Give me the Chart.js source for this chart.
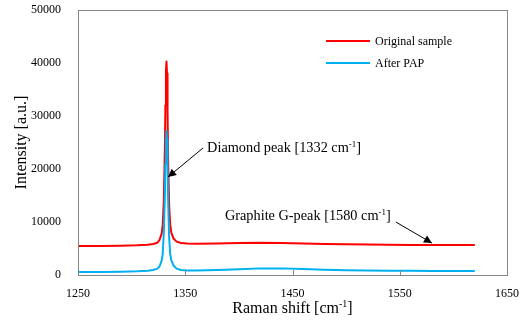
<!DOCTYPE html>
<html>
<head>
<meta charset="utf-8">
<script src="https://cdn.jsdelivr.net/npm/chart.js@4/dist/chart.umd.min.js"></script>
<style>
  html, body { margin: 0; padding: 0; background: #fff; }
  #wrap { width: 523px; height: 320px; }
</style>
</head>
<body>
<div id="wrap"><canvas id="ramanChart" width="523" height="320"></canvas></div>
<script>
// Raman shift samples (cm-1), denser around the diamond peak
const ramanShift = [1250, 1270, 1290, 1305, 1315, 1320, 1324, 1326, 1328, 1329, 1330, 1331, 1331.5, 1332, 1332.5, 1333, 1333.5, 1334, 1335, 1336, 1337, 1339, 1342, 1346, 1352, 1360, 1380, 1400, 1420, 1440, 1460, 1480, 1500, 1520, 1540, 1560, 1580, 1600, 1620];

// Intensity, original sample (red)
const originalSample = [5450, 5480, 5520, 5600, 5700, 5850, 6100, 6600, 7800, 9500, 14000, 24000, 32000, 38500, 40300, 38000, 31000, 22000, 13000, 9500, 8000, 6900, 6300, 6050, 5950, 5900, 5950, 6050, 6100, 6050, 5950, 5850, 5800, 5750, 5700, 5680, 5650, 5650, 5650];

// Intensity, after PAP (blue)
const afterPap = [550, 580, 620, 700, 800, 950, 1200, 1600, 2700, 4000, 8000, 15000, 21000, 25500, 27200, 25500, 21000, 14500, 7000, 4000, 2800, 1800, 1200, 950, 850, 850, 950, 1100, 1250, 1250, 1150, 1000, 900, 850, 800, 780, 750, 740, 740];

const seriesNames = ['Original sample', 'After PAP'];
const xTicks = [1250, 1350, 1450, 1550, 1650];
const yTicks = [0, 10000, 20000, 30000, 40000, 50000];

const RED = '#ff0000';
const BLUE = '#00b0f0';
const SERIF = '"Liberation Serif", "Times New Roman", serif';

function toPoints(ys) {
    return ramanShift.map((x, i) => ({ x: x, y: ys[i] }));
}

// text with a superscript "-1" in the middle, e.g. "[1332 cm-1]"
function drawSupText(ctx, x, y, before, sup, after, size) {
    ctx.font = size + 'px ' + SERIF;
    ctx.fillText(before, x, y);
    let w = ctx.measureText(before).width;
    ctx.font = Math.round(size * 0.62) + 'px ' + SERIF;
    ctx.fillText(sup, x + w, y - size * 0.38);
    w += ctx.measureText(sup).width;
    ctx.font = size + 'px ' + SERIF;
    ctx.fillText(after, x + w, y);
}

function drawArrow(ctx, x0, y0, x1, y1) {
    ctx.save();
    ctx.strokeStyle = '#000';
    ctx.fillStyle = '#000';
    ctx.lineWidth = 1;
    ctx.beginPath();
    ctx.moveTo(x0, y0);
    ctx.lineTo(x1, y1);
    ctx.stroke();
    const a = Math.atan2(y1 - y0, x1 - x0);
    const len = 8, half = 4;
    ctx.beginPath();
    ctx.moveTo(x1, y1);
    ctx.lineTo(x1 - len * Math.cos(a) + half * Math.sin(a), y1 - len * Math.sin(a) - half * Math.cos(a));
    ctx.lineTo(x1 - len * Math.cos(a) - half * Math.sin(a), y1 - len * Math.sin(a) + half * Math.cos(a));
    ctx.closePath();
    ctx.fill();
    ctx.restore();
}

// frame, inner ticks, titles, legend and annotations
const decorPlugin = {
    id: 'decor',
    afterDraw(chart) {
        const ctx = chart.ctx;
        const area = chart.chartArea;
        const xs = chart.scales.x;
        const ys = chart.scales.y;
        ctx.save();

        // plot frame
        ctx.strokeStyle = '#868686';
        ctx.lineWidth = 1;
        ctx.strokeRect(Math.round(area.left) + 0.5, Math.round(area.top) + 0.5,
            Math.round(area.right - area.left), Math.round(area.bottom - area.top));

        // tick marks pointing inward on the x axis
        ctx.beginPath();
        xTicks.forEach(v => {
            const px = Math.round(xs.getPixelForValue(v)) + 0.5;
            ctx.moveTo(px, area.bottom);
            ctx.lineTo(px, area.bottom - 5);
        });
        ctx.stroke();

        // axis titles
        ctx.fillStyle = '#000';
        ctx.textBaseline = 'alphabetic';
        ctx.textAlign = 'left';
        const t1 = 'Raman shift [cm', t2 = '-1', t3 = ']';
        ctx.font = '16px ' + SERIF;
        let w = ctx.measureText(t1).width + ctx.measureText(t3).width;
        ctx.font = '10px ' + SERIF;
        w += ctx.measureText(t2).width;
        drawSupText(ctx, (area.left + area.right) / 2 - w / 2, 313, t1, t2, t3, 16);

        ctx.save();
        ctx.translate(26, (area.top + area.bottom) / 2);
        ctx.rotate(-Math.PI / 2);
        ctx.textAlign = 'center';
        ctx.font = '16px ' + SERIF;
        ctx.fillText('Intensity [a.u.]', 0, 0);
        ctx.restore();

        // legend
        const legendColors = [RED, BLUE];
        ctx.font = '12px ' + SERIF;
        seriesNames.forEach((name, i) => {
            const y = 41 + i * 22;
            ctx.strokeStyle = legendColors[i];
            ctx.lineWidth = 2;
            ctx.beginPath();
            ctx.moveTo(326, y);
            ctx.lineTo(370, y);
            ctx.stroke();
            ctx.fillStyle = '#000';
            ctx.fillText(name, 375, y + 4);
        });

        // annotations anchored on the data
        const dTipX = xs.getPixelForValue(1334);
        const dTipY = ys.getPixelForValue(18500);
        drawArrow(ctx, dTipX + 35, dTipY - 29, dTipX, dTipY);
        ctx.fillStyle = '#000';
        drawSupText(ctx, dTipX + 39, dTipY - 25, 'Diamond peak [1332 cm', '-1', ']', 14.3);

        const gTipX = xs.getPixelForValue(1580);
        const gTipY = ys.getPixelForValue(5650) - 2;
        drawArrow(ctx, gTipX - 36, gTipY - 21, gTipX, gTipY);
        ctx.fillStyle = '#000';
        drawSupText(ctx, gTipX - 207, gTipY - 23, 'Graphite G-peak [1580 cm', '-1', ']', 14.3);

        ctx.restore();
    }
};

new Chart(document.getElementById('ramanChart'), {
    type: 'line',
    data: {
        datasets: [
            {
                label: seriesNames[0],
                data: toPoints(originalSample),
                borderColor: RED,
                borderWidth: 2,
                borderJoinStyle: 'round',
                pointRadius: 0,
                tension: 0,
                fill: false,
                order: 1
            },
            {
                label: seriesNames[1],
                data: toPoints(afterPap),
                borderColor: BLUE,
                borderWidth: 2,
                borderJoinStyle: 'round',
                pointRadius: 0,
                tension: 0,
                fill: false,
                order: 0
            }
        ]
    },
    options: {
        responsive: false,
        animation: false,
        layout: { padding: { top: 10, right: 16, left: 0, bottom: 0 } },
        plugins: {
            legend: { display: false },
            tooltip: { enabled: false }
        },
        scales: {
            x: {
                type: 'linear',
                min: 1250,
                max: 1650,
                afterBuildTicks: s => { s.ticks = xTicks.map(v => ({ value: v })); },
                afterFit: s => { s.height = 45; s.paddingLeft = 0; s.paddingRight = 0; },
                grid: { display: false },
                border: { display: false },
                ticks: {
                    color: '#000',
                    padding: 4,
                    font: { family: SERIF, size: 12 },
                    callback: v => String(v)
                }
            },
            y: {
                min: 0,
                max: 50000,
                afterBuildTicks: s => { s.ticks = yTicks.map(v => ({ value: v })); },
                afterFit: s => { s.width = 78; s.paddingTop = 0; s.paddingBottom = 0; },
                grid: { display: false },
                border: { display: false },
                ticks: {
                    color: '#000',
                    padding: 9,
                    font: { family: SERIF, size: 12 },
                    callback: v => String(v)
                }
            }
        }
    },
    plugins: [decorPlugin]
});
</script>
</body>
</html>
